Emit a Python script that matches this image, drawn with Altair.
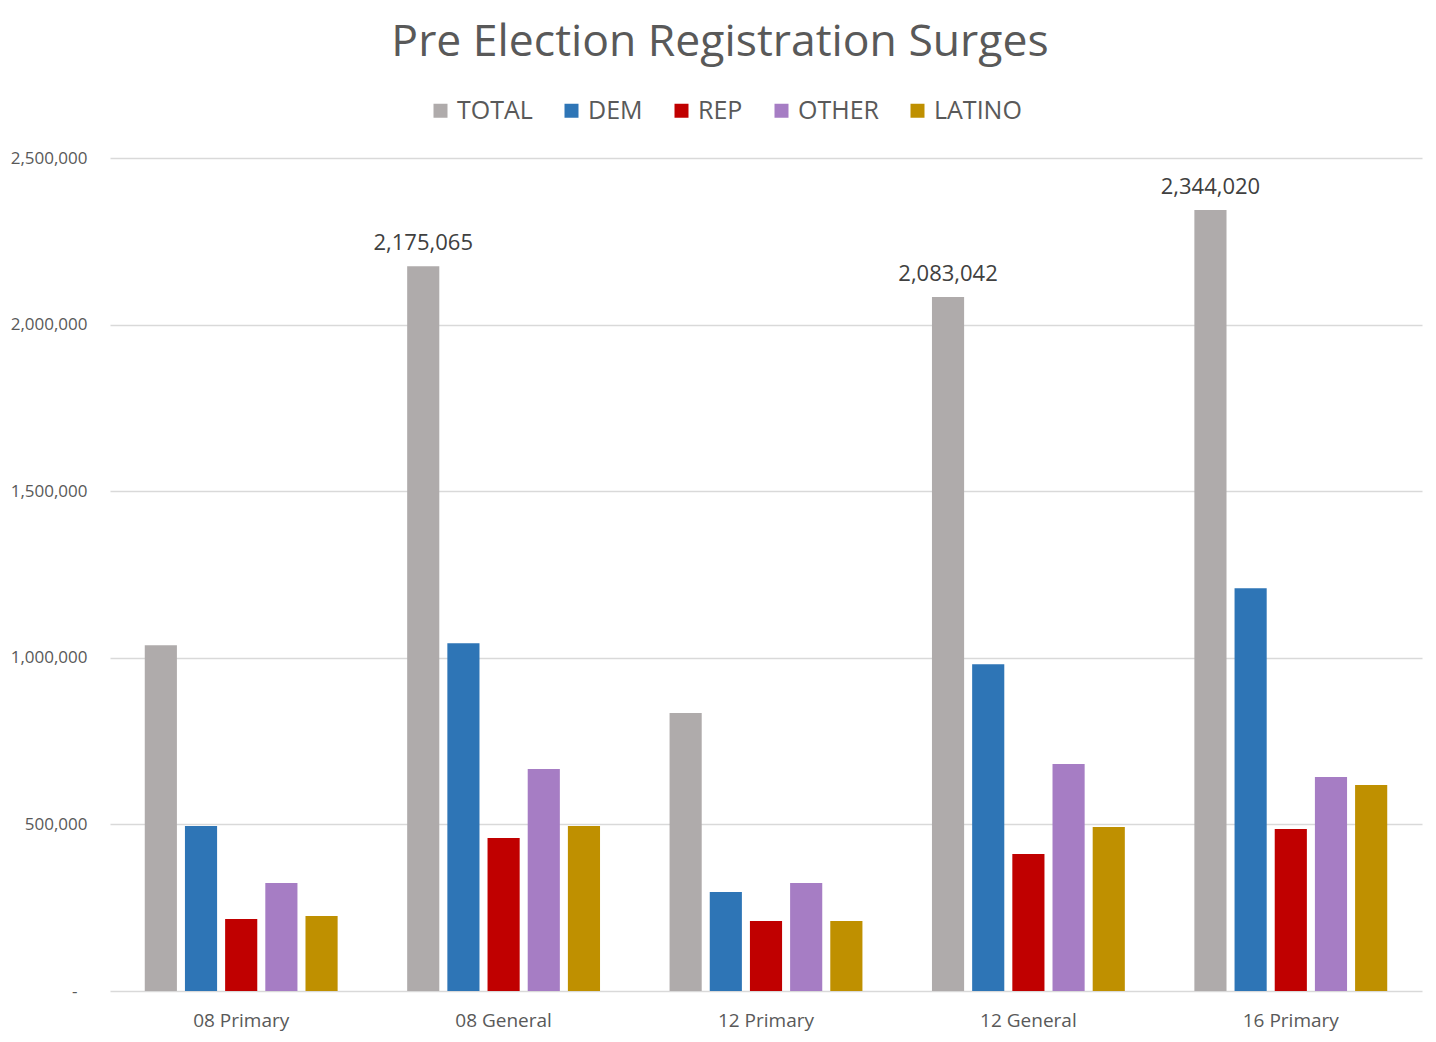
import altair as alt
import pandas as pd

categories = ["08 Primary", "08 General", "12 Primary", "12 General", "16 Primary"]
series = ["TOTAL", "DEM", "REP", "OTHER", "LATINO"]
colors = ["#AFABAB", "#2E75B6", "#C00000", "#A67DC4", "#BF9000"]

total = [1038000, 2175065, 834000, 2083042, 2344020]
dem = [495000, 1044000, 297000, 981000, 1209000]
rep = [216000, 459000, 210000, 411000, 486000]
other = [324000, 666000, 324000, 681000, 642000]
latino = [225000, 495000, 210000, 492000, 618000]
show_label = [False, True, False, True, True]

values = {"TOTAL": total, "DEM": dem, "REP": rep, "OTHER": other, "LATINO": latino}
rows = []
for s in series:
    for i, c in enumerate(categories):
        rows.append({"cat": c, "series": s, "value": values[s][i],
                     "label": (s == "TOTAL" and show_label[i])})
df = pd.DataFrame(rows)

font = "Open Sans"

x = alt.X("cat:N", sort=categories, title=None,
          scale=alt.Scale(paddingInner=0.265, paddingOuter=0.1325),
          axis=alt.Axis(labelAngle=0, ticks=False, domain=False, labelFontSize=19,
                        labelColor="#595959", labelFont=font, labelPadding=20))
xo = alt.XOffset("series:N", sort=series,
                 scale=alt.Scale(paddingInner=0.2, paddingOuter=0))
y = alt.Y("value:Q", title=None,
          scale=alt.Scale(domain=[0, 2500000], nice=False),
          axis=alt.Axis(values=[0, 500000, 1000000, 1500000, 2000000, 2500000],
                        ticks=False, domain=False, labelFontSize=17,
                        labelColor="#595959", labelFont=font,
                        labelPadding={"condition": {"test": "datum.value === 0", "value": 33},
                                      "value": 23},
                        labelExpr="datum.value == 0 ? '-' : format(datum.value, ',')",
                        gridColor="#D9D9D9", gridWidth=1.5))

bars = alt.Chart(df).mark_bar().encode(
    x=x, xOffset=xo, y=y,
    color=alt.Color("series:N", sort=series,
                    scale=alt.Scale(domain=series, range=colors),
                    legend=alt.Legend(title=None, orient="none", direction="horizontal",
                                      legendX=318, legendY=-60,
                                      symbolType="square", symbolSize=196,
                                      symbolStrokeWidth=0, labelFontSize=25,
                                      labelFont=font, labelColor="#595959",
                                      labelOffset=4, columnPadding=26))
)

labels = alt.Chart(df).transform_filter("datum.label").mark_text(
    baseline="alphabetic", dy=-16, fontSize=22, font=font, color="#404040"
).encode(
    x=x, xOffset=xo, y=y,
    text=alt.Text("value:Q", format=",")
)

chart = alt.layer(bars, labels).properties(
    width=1312, height=833,
    padding={"left": 102, "top": 150, "right": 6, "bottom": 50},
    autosize=alt.AutoSizeParams(type="none"),
    title=alt.TitleParams("Pre Election Registration Surges", fontSize=44.5, font=font,
                          fontWeight="normal", color="#595959", anchor="middle",
                          dx=-46, offset=33),
    background="white",
).configure_view(stroke=None)

chart.save("out.html", embed_options={"renderer": "svg", "actions": False})
